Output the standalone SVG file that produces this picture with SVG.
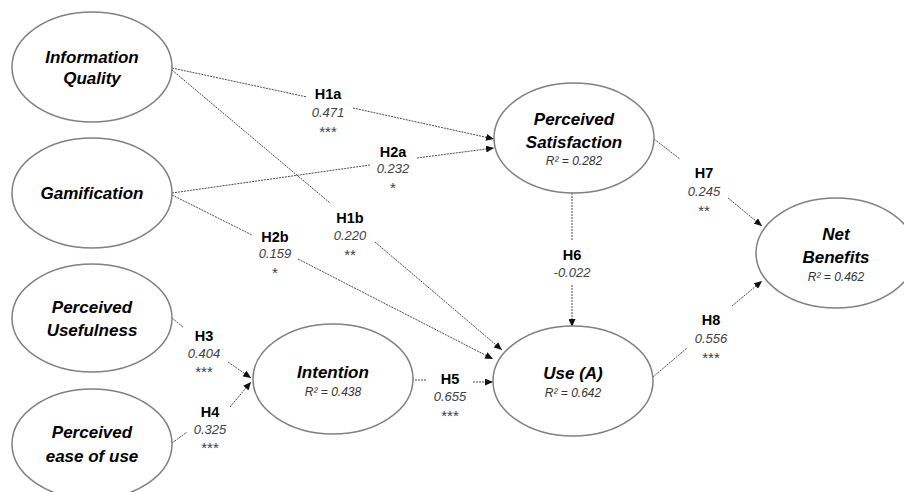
<svg xmlns="http://www.w3.org/2000/svg" width="904" height="492" viewBox="0 0 904 492">
<style>
.node ellipse{fill:#fff;stroke:#808080;stroke-width:1.5}
.nm{font-family:"Liberation Sans",Arial,sans-serif;font-size:17px;font-weight:bold;font-style:italic;fill:#000;text-anchor:middle}
.r2{font-family:"Liberation Sans",Arial,sans-serif;font-size:12px;font-style:italic;fill:#333;text-anchor:middle}
.h{font-family:"Liberation Sans",Arial,sans-serif;font-size:14.5px;font-weight:bold;fill:#000;text-anchor:middle}
.v{font-family:"Liberation Sans",Arial,sans-serif;font-size:13px;font-style:italic;fill:#404040;text-anchor:middle}
.s{font-family:"Liberation Sans",Arial,sans-serif;font-size:15px;fill:#404040;text-anchor:middle}
.c line{stroke:#333;stroke-width:0.9;stroke-dasharray:2 1;fill:none}
.c line.a{marker-end:url(#arr)}
</style>
<defs>
<marker id="arr" markerUnits="userSpaceOnUse" markerWidth="8" markerHeight="7" refX="8" refY="3.5" orient="auto">
<path d="M0,0 L8,3.5 L0,7 Z" fill="#111"/>
</marker>
</defs>
<rect width="904" height="492" fill="#fff"/>
<g class="c" id="connectors">
<line x1="172" y1="68" x2="307" y2="97"/>
<line class="a" x1="353" y1="108" x2="494" y2="139"/>
<line x1="172" y1="70" x2="330" y2="203"/>
<line class="a" x1="375" y1="242" x2="502" y2="350"/>
<line x1="172" y1="193" x2="370" y2="165"/>
<line class="a" x1="417" y1="158" x2="494" y2="148"/>
<line x1="172" y1="195" x2="252" y2="235"/>
<line class="a" x1="298" y1="259" x2="493" y2="359"/>
<line x1="172" y1="318" x2="183" y2="327"/>
<line class="a" x1="228" y1="362" x2="251" y2="378"/>
<line x1="172" y1="443" x2="187" y2="432"/>
<line class="a" x1="230" y1="407" x2="251" y2="382"/>
<line x1="412" y1="380" x2="427" y2="380"/>
<line class="a" x1="473" y1="382" x2="493" y2="382"/>
<line x1="572" y1="193" x2="572" y2="240"/>
<line class="a" x1="572" y1="285" x2="572" y2="327"/>
<line x1="654" y1="139" x2="680" y2="159"/>
<line class="a" x1="728" y1="198" x2="762" y2="226"/>
<line x1="653" y1="377" x2="687" y2="348"/>
<line class="a" x1="732" y1="306" x2="762" y2="281"/>
</g>
<g id="labels">
<text class="h" x="328" y="99">H1a</text><text class="v" x="328" y="117">0.471</text><text class="s" x="328" y="137">***</text>
<text class="h" x="393" y="157">H2a</text><text class="v" x="393" y="173">0.232</text><text class="s" x="393" y="193">*</text>
<text class="h" x="350" y="223">H1b</text><text class="v" x="350" y="240">0.220</text><text class="s" x="350" y="260">**</text>
<text class="h" x="275" y="242">H2b</text><text class="v" x="275" y="258">0.159</text><text class="s" x="275" y="278">*</text>
<text class="h" x="704" y="178">H7</text><text class="v" x="704" y="196">0.245</text><text class="s" x="704" y="216">**</text>
<text class="h" x="572" y="260">H6</text><text class="v" x="572" y="277">-0.022</text>
<text class="h" x="711" y="325">H8</text><text class="v" x="711" y="343">0.556</text><text class="s" x="711" y="363">***</text>
<text class="h" x="204" y="341">H3</text><text class="v" x="204" y="358">0.404</text><text class="s" x="204" y="377">***</text>
<text class="h" x="210" y="417">H4</text><text class="v" x="210" y="434">0.325</text><text class="s" x="210" y="453">***</text>
<text class="h" x="450" y="384">H5</text><text class="v" x="450" y="401">0.655</text><text class="s" x="450" y="421">***</text>
</g>
<g class="node" id="information-quality"><ellipse cx="92" cy="67" rx="80" ry="55"/><text class="nm" x="92" y="63">Information</text><text class="nm" x="92" y="84">Quality</text></g>
<g class="node" id="gamification"><ellipse cx="92" cy="193" rx="80" ry="55"/><text class="nm" x="92" y="199">Gamification</text></g>
<g class="node" id="perceived-usefulness"><ellipse cx="92" cy="318" rx="80" ry="54"/><text class="nm" x="92" y="313">Perceived</text><text class="nm" x="92" y="336">Usefulness</text></g>
<g class="node" id="perceived-ease"><ellipse cx="92" cy="444" rx="80" ry="55"/><text class="nm" x="92" y="438">Perceived</text><text class="nm" x="92" y="462">ease of use</text></g>
<g class="node" id="intention"><ellipse cx="333" cy="379" rx="80" ry="55"/><text class="nm" x="333" y="378">Intention</text><text class="r2" x="333" y="396">R² = 0.438</text></g>
<g class="node" id="use"><ellipse cx="573" cy="381" rx="80" ry="55"/><text class="nm" x="573" y="379">Use (A)</text><text class="r2" x="573" y="397">R² = 0.642</text></g>
<g class="node" id="perceived-satisfaction"><ellipse cx="574" cy="138" rx="80" ry="55"/><text class="nm" x="574" y="125">Perceived</text><text class="nm" x="574" y="148">Satisfaction</text><text class="r2" x="574" y="165">R² = 0.282</text></g>
<g class="node" id="net-benefits"><ellipse cx="836" cy="253" rx="80" ry="55"/><text class="nm" x="836" y="240">Net</text><text class="nm" x="836" y="263">Benefits</text><text class="r2" x="836" y="281">R² = 0.462</text></g>
</svg>
